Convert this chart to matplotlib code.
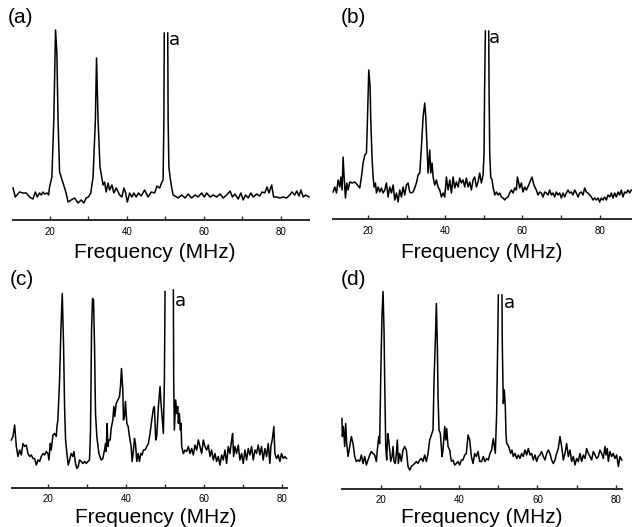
import numpy as np
import matplotlib
matplotlib.use('Agg')
import matplotlib.pyplot as plt

nan = np.nan

# ---------------- data (frequency in MHz, intensity in arbitrary units) ----------------
freq_a = [10.4, 11.0, 12.1, 13.0, 13.85, 14.7, 15.6, 16.2, 16.7, 17.3, 17.75, 18.2, 18.6, 19.3, 19.65,
          19.9, 20.5, 21.0, 21.45, 21.8, 22.1, 22.5, 23.4, 24.2, 24.7, 25.5, 26.4, 27.3, 28.1, 28.8,
          29.4, 30.0, 30.6, 31.2, 31.8, 32.1, 32.5, 33.0, 33.8, 34.2, 34.6, 35.1, 35.5, 36.1, 36.6,
          37.2, 38.1, 38.7, 39.2, 39.6, 40.1, 40.7, 41.3, 41.8, 42.4, 43.0, 43.7, 44.6, 45.5, 46.3,
          47.2, 47.8, 48.5, 49.1, 49.4, 49.6, 49.7, nan, 50.6, 50.7, 50.9, 51.2, 51.6, 52.0,
          52.5, 53.3, 54.2, 55.1, 55.9, 56.8, 57.7, 58.5, 59.4, 60.1, 60.7, 61.6, 62.4, 63.3, 64.2,
          65.0, 65.9, 66.8, 67.4, 68.05, 68.9, 69.6, 70.2, 70.8, 71.5, 72.2, 72.8, 73.7, 74.5, 75.1,
          75.8, 76.4, 76.9, 77.6, 78.1, 78.9, 79.7, 80.6, 81.5, 82.3, 82.9, 83.6, 84.1, 84.7, 85.2,
          85.8, 86.4, 87.3]
int_a = [32, 23, 28, 27, 27, 23, 21, 28, 23, 27, 25, 28, 26, 27, 25,
         33, 43, 100, 190, 167, 100, 48, 37, 27, 18, 20, 22, 17, 20, 17,
         22, 23, 27, 43, 100, 162, 100, 53, 35, 38, 28, 37, 30, 35, 27,
         32, 25, 23, 32, 28, 18, 27, 23, 27, 23, 27, 24, 30, 23, 28,
         27, 34, 32, 38, 40, 100, 187, nan, 187, 100, 53, 43, 33, 25,
         24, 22, 25, 22, 26, 22, 25, 23, 27, 23, 27, 23, 25, 23, 26,
         22, 25, 29, 23, 26, 21, 27, 20, 25, 22, 27, 23, 26, 24, 28,
         27, 33, 27, 35, 23, 23, 22, 23, 22, 25, 28, 25, 29, 24, 30,
         23, 25, 23]

freq_b = [10.93, 11.36, 11.8, 12.23, 12.66, 12.92, 13.26, 13.52, 13.78, 14.13, 14.47, 14.82, 15.25,
          15.85, 16.55, 17.24, 17.84, 18.27, 18.7, 19.14, 19.57, 19.83, 20.17, 20.52, 20.69, 21.04,
          21.3, 21.55, 21.9, 22.16, 22.59, 23.02, 23.45, 23.89, 24.32, 24.75, 25.18, 25.61, 26.05,
          26.48, 26.91, 27.34, 27.77, 28.2, 28.64, 29.07, 29.5, 29.93, 30.36, 30.79, 31.23, 31.66,
          32.09, 32.52, 32.95, 33.39, 33.82, 34.25, 34.68, 34.94, 35.28, 35.54, 35.8, 35.98, 36.23,
          36.58, 36.84, 37.27, 37.7, 38.13, 38.57, 39.0, 39.43, 39.86, 40.29, 40.73, 41.16, 41.59,
          42.02, 42.45, 42.88, 43.32, 43.75, 44.18, 44.61, 45.04, 45.47, 45.91, 46.34, 46.77, 47.2,
          47.63, 48.07, 48.5, 48.93, 49.36, 49.8, 50.05, 50.2, 50.4, nan, 51.26, 51.35, 51.52,
          51.78, 52.13, 52.39, 52.82, 53.25, 53.68, 54.11, 54.54, 54.98, 55.41, 55.84, 56.27, 56.7,
          57.14, 57.57, 58.0, 58.43, 58.69, 59.04, 59.29, 59.73, 60.16, 60.59, 61.02, 61.63, 62.14,
          62.49, 62.84, 63.18, 63.61, 64.04, 64.48, 64.91, 65.34, 65.77, 66.2, 66.63, 67.07, 67.5,
          67.93, 68.36, 68.79, 69.23, 69.66, 70.09, 70.52, 70.95, 71.38, 71.82, 72.25, 72.68, 73.11,
          73.54, 73.97, 74.41, 74.84, 75.27, 75.7, 76.13, 76.57, 77.0, 77.43, 77.86, 78.29, 78.72,
          79.16, 79.59, 80.02, 80.45, 80.88, 81.31, 81.75, 82.18, 82.61, 83.04, 83.47, 83.91, 84.34,
          84.77, 85.2, 85.63, 86.06, 86.5, 86.93, 87.36, 87.79, 88.22]
int_b = [27, 32, 26, 39, 32, 42, 29, 62, 42, 21, 36, 29, 37,
         36, 37, 34, 31, 42, 56, 64, 66, 99, 149, 132, 99, 59,
         42, 32, 36, 26, 32, 27, 31, 26, 29, 36, 22, 32, 26,
         34, 19, 26, 17, 29, 22, 32, 24, 34, 36, 27, 26, 27,
         31, 36, 44, 46, 72, 102, 116, 102, 72, 46, 59, 69, 46,
         56, 42, 34, 39, 32, 29, 22, 26, 22, 42, 29, 39, 26,
         42, 31, 37, 32, 41, 36, 39, 32, 41, 32, 37, 29, 39,
         42, 32, 37, 46, 36, 44, 66, 132, 188, nan, 188, 132, 66,
         42, 39, 32, 24, 27, 24, 26, 22, 21, 19, 21, 22, 26,
         29, 26, 31, 29, 42, 36, 31, 36, 27, 32, 29, 34, 39,
         42, 36, 32, 29, 24, 27, 26, 22, 27, 26, 24, 29, 24,
         26, 22, 27, 24, 26, 21, 26, 22, 26, 29, 26, 27, 24,
         29, 26, 22, 26, 27, 24, 31, 27, 26, 24, 22, 19, 21,
         19, 21, 17, 21, 19, 22, 19, 24, 22, 26, 21, 26, 22,
         27, 24, 29, 22, 27, 26, 29, 26, 29]

freq_c = [10.6, 11.03, 11.45, 11.88, 12.31, 12.74, 13.16, 13.59, 14.02, 14.44, 14.87, 15.3, 15.73,
          16.15, 16.58, 17.01, 17.44, 17.86, 18.29, 18.72, 19.15, 19.57, 20.0, 20.26, 20.6, 20.85,
          21.28, 21.71, 22.14, 22.31, 22.56, 22.99, 23.33, 23.68, 24.02, 24.27, 24.53, 24.87, 25.21,
          25.56, 25.98, 26.41, 26.67, 27.09, 27.44, 27.78, 28.12, 28.55, 28.97, 29.4, 29.83, 30.26,
          30.68, 30.94, 31.2, 31.45, 31.71, 31.97, 32.22, 32.56, 33.08, 33.68, 34.1, 34.53, 34.79,
          34.96, 35.21, 35.38, 35.64, 35.98, 36.24, 36.67, 36.92, 37.18, 37.52, 37.95, 38.38, 38.63,
          38.89, 39.23, 39.4, 39.66, 39.91, 40.26, 40.6, 40.94, 41.37, 41.62, 41.97, 42.22, 42.48,
          42.82, 43.16, 43.5, 43.85, 44.19, 44.53, 44.95, 45.38, 45.8, 46.23, 46.66, 47.09, 47.34,
          47.68, 47.94, 48.37, 48.8, 49.05, 49.39, 49.65, 49.91, 50.08, nan, 52.21, 52.3, 52.47,
          52.81, 53.07, 53.33, 53.5, 53.75, 54.01, 54.18, 54.35, 54.78, 55.21, 55.63, 56.06, 56.49,
          56.92, 57.34, 57.77, 58.2, 58.63, 59.05, 59.48, 59.91, 60.33, 60.76, 61.19, 61.62, 62.04,
          62.47, 62.9, 63.33, 63.75, 64.18, 64.61, 65.04, 65.46, 65.89, 66.32, 66.75, 67.17, 67.43,
          67.69, 68.03, 68.45, 68.88, 69.31, 69.74, 70.16, 70.59, 71.02, 71.45, 71.87, 72.3, 72.73,
          73.16, 73.58, 74.01, 74.44, 74.86, 75.29, 75.72, 76.15, 76.57, 77.0, 77.26, 77.6, 78.03,
          78.28, 78.71, 79.14, 79.57, 79.99, 80.42, 80.85, 81.27]
int_c = [47.5, 51, 62.5, 41, 31, 37.5, 32.5, 44, 41, 42.5, 34, 31, 32.5,
         29, 29, 22.5, 27.5, 26, 31, 34, 32.5, 36, 34, 27.5, 44, 37.5,
         52.5, 54, 51, 61, 67.5, 107.5, 157.5, 194, 141, 81, 47.5, 34, 22.5,
         27.5, 34, 31, 36, 24, 19, 21, 27.5, 26, 24, 26, 24, 26,
         27.5, 57.5, 157.5, 189, 187.5, 141, 74, 51, 34, 27.5, 29, 37.5, 44,
         36, 64, 41, 47.5, 47.5, 59, 67.5, 81, 71, 84, 87.5, 91, 101,
         119, 97.5, 67.5, 71, 86, 64, 61, 51, 41, 26, 37.5, 49, 44,
         26, 34, 26, 34, 32.5, 37.5, 37.5, 41, 44, 54, 67.5, 79, 81,
         47.5, 51, 81, 101, 84, 67.5, 54, 107.5, 196, nan, 197.5, 107.5, 57.5,
         87.5, 74, 81, 64, 74, 57.5, 64, 41, 34, 37.5, 36, 41, 34,
         39, 32.5, 42.5, 37.5, 47.5, 41, 34, 47.5, 41, 37.5, 42.5, 31, 37.5,
         27.5, 34, 26, 31, 22.5, 32.5, 27.5, 37.5, 24, 41, 34, 47.5, 54,
         31, 41, 34, 42.5, 27.5, 34, 24, 37.5, 27.5, 39, 32.5, 41, 27.5,
         37.5, 34, 42.5, 32.5, 41, 27.5, 39, 31, 44, 24, 41, 47.5, 61,
         34, 29, 32.5, 26, 34, 29, 31, 29]

freq_d = [10.13, 10.22, 10.48, 10.82, 11.07, 11.33, 11.67, 12.09, 12.52, 12.94, 13.37, 13.79, 14.22,
          14.64, 15.07, 15.49, 15.92, 16.34, 16.77, 17.19, 17.62, 18.04, 18.47, 18.89, 19.15, 19.49,
          19.74, 20.0, 20.34, 20.6, 20.85, 21.02, 21.28, 21.53, 21.79, 22.04, 22.3, 22.55, 22.89,
          23.15, 23.4, 23.74, 24.0, 24.25, 24.51, 24.85, 25.27, 25.7, 26.12, 26.55, 26.97, 27.4,
          27.82, 28.25, 28.67, 29.1, 29.52, 29.95, 30.37, 30.8, 31.22, 31.65, 32.07, 32.5, 32.93,
          33.35, 33.61, 33.95, 34.2, 34.46, 34.63, 34.88, 35.22, 35.65, 35.9, 36.33, 36.58, 36.84,
          37.18, 37.6, 38.03, 38.45, 38.88, 39.3, 39.73, 40.15, 40.58, 41.0, 41.43, 41.85, 42.28,
          42.7, 43.13, 43.55, 43.98, 44.4, 44.83, 45.26, 45.76, 46.18, 46.61, 47.03, 47.46, 47.88,
          48.31, 48.73, 48.99, 49.24, 49.58, 49.84, 50.01, nan, 50.94, 51.03, 51.28, 51.54, 51.79,
          51.96, 52.13, 52.47, 52.81, 53.15, 53.49, 53.83, 54.26, 54.68, 55.11, 55.53, 55.96, 56.38,
          56.81, 57.23, 57.66, 58.09, 58.51, 58.94, 59.36, 59.79, 60.21, 60.64, 61.06, 61.49, 61.91,
          62.34, 62.76, 63.19, 63.61, 64.04, 64.46, 64.89, 65.31, 65.74, 66.16, 66.59, 67.01, 67.44,
          67.86, 68.29, 68.71, 69.14, 69.57, 69.99, 70.42, 70.84, 71.27, 71.69, 72.12, 72.54, 72.97,
          73.39, 73.82, 74.24, 74.67, 75.09, 75.52, 75.94, 76.37, 76.79, 77.22, 77.47, 77.81, 78.07,
          78.49, 78.92, 79.34, 79.77, 80.2, 80.62, 81.05, 81.5]
int_d = [70, 52, 62, 42, 65, 45, 32, 42, 52, 45, 32, 27, 28.5,
         27, 33.5, 25, 32, 23.5, 28.5, 33.5, 37, 35, 33.5, 27, 38.5, 52,
         45, 108.5, 175, 197, 158.5, 108.5, 42, 28.5, 55, 48.5, 38.5, 27, 32,
         42, 27, 25, 35, 48.5, 25, 35, 27, 38.5, 42, 38.5, 22, 18.5,
         22, 23.5, 25, 27, 25, 28.5, 30, 27, 33.5, 27, 35, 48.5, 53.5,
         58.5, 108.5, 148.5, 185, 142, 92, 58.5, 55, 32, 38.5, 62, 48.5, 60,
         42, 38.5, 27, 28.5, 23.5, 25, 27, 23.5, 28.5, 28.5, 33.5, 35, 53.5,
         48.5, 32, 25, 35, 32, 37, 27, 27, 32, 27, 30, 28.5, 35,
         38.5, 50, 42, 35, 75, 142, 193.5, nan, 193.5, 142, 85, 98.5, 82,
         55, 45, 43.5, 40, 35, 38.5, 32, 35, 30, 33.5, 30, 35, 32,
         38.5, 33.5, 40, 33.5, 35, 28.5, 33.5, 27, 32, 33.5, 37, 32, 28.5,
         35, 38.5, 35, 28.5, 25, 28.5, 35, 40, 52, 42, 28.5, 35, 45,
         32, 38.5, 27, 32, 23.5, 30, 27, 35, 27, 33.5, 30, 40, 35,
         32, 28.5, 37, 33.5, 30, 32, 38.5, 35, 30, 42, 33.5, 40, 27,
         37, 32, 35, 30, 33.5, 22, 32, 28.5]

tick_values = [20, 30, 40, 50, 60, 70, 80]
tick_labels = ['20', '', '40', '', '60', '', '80']
panel_labels = ['(a)', '(b)', '(c)', '(d)']
peak_label = 'a'
x_label = 'Frequency (MHz)'

# ---------------- layout (figure pixels) ----------------
W, H = 632, 527
fig = plt.figure(figsize=(W / 100, H / 100), dpi=100)
fig.patch.set_facecolor('white')

panels = [
    dict(f=freq_a, v=int_a, left=13, right=309, bottom=220, ymax=190, xlim=(10.4, 87.3),
         alab=(52.4, 180), plab=(8, 8), xlab=(155, 258)),
    dict(f=freq_b, v=int_b, left=333, right=632, bottom=219, ymax=189, xlim=(10.9, 88.4),
         alab=(52.8, 181), plab=(341, 8), xlab=(482, 258)),
    dict(f=freq_c, v=int_c, left=12, right=287, bottom=487.5, ymax=197.5, xlim=(10.77, 81.4),
         alab=(54.1, 186), plab=(10, 270), xlab=(156, 523)),
    dict(f=freq_d, v=int_d, left=342, right=622, bottom=488.5, ymax=197, xlim=(10.13, 81.56),
         alab=(52.9, 186), plab=(341, 270), xlab=(482, 523)),
]

lab_font = 'Liberation Sans'
for p, plabel in zip(panels, panel_labels):
    rect = [p['left'] / W, (H - p['bottom']) / H, (p['right'] - p['left']) / W, p['ymax'] / H]
    ax = fig.add_axes(rect)
    ax.patch.set_alpha(0)
    ax.plot(p['f'], p['v'], color='black', lw=1.1, clip_on=False)
    ax.set_xlim(*p['xlim'])
    ax.set_ylim(0, p['ymax'])
    for s in ['top', 'left', 'right']:
        ax.spines[s].set_visible(False)
    ax.spines['bottom'].set_color('#2a2a2a')
    ax.spines['bottom'].set_linewidth(1.4)
    ax.set_yticks([])
    ax.set_xticks(tick_values)
    ax.set_xticklabels(tick_labels, fontsize=7, family=lab_font)
    ax.tick_params(axis='x', direction='in', length=3, width=1, color='#2a2a2a', pad=5)
    ax.text(p['alab'][0], p['alab'][1], peak_label, fontsize=13, family='DejaVu Sans',
            ha='center', va='center')
    fig.text(p['plab'][0] / W, 1 - p['plab'][1] / H, plabel, fontsize=15, family=lab_font,
             ha='left', va='top')
    fig.text(p['xlab'][0] / W, 1 - p['xlab'][1] / H, x_label, fontsize=15, family=lab_font,
             ha='center', va='baseline')

fig.savefig('out.png', dpi=100, facecolor='white')
